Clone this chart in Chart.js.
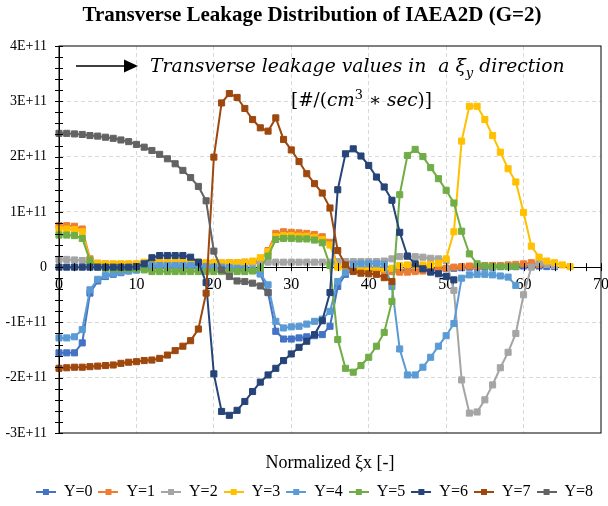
<!DOCTYPE html>
<html>
<head>
<meta charset="utf-8">
<script src="https://cdn.jsdelivr.net/npm/chart.js@4.4.0/dist/chart.umd.min.js"></script>
<style>
  body { margin: 0; background: #fff; }
  canvas { display: block; }
</style>
</head>
<body>
<canvas id="chart" width="608" height="506"></canvas>
<script>
// values are in units of 1E+11 #/(cm3*sec), one point per normalized xi_x step (x = 0, 1, 2, ...)
const seriesNames = ['Y=0', 'Y=1', 'Y=2', 'Y=3', 'Y=4', 'Y=5', 'Y=6', 'Y=7', 'Y=8'];
const seriesColors = ['#4472C4', '#ED7D31', '#A5A5A5', '#FFC000', '#5B9BD5', '#70AD47', '#264478', '#9E480E', '#636363'];

const yRow0 = [-1.55, -1.55, -1.55, -1.37, -0.47, -0.25, -0.17, -0.13, -0.10, -0.07, -0.05,
  -0.02, -0.01, -0.01, -0.01, -0.01, -0.01, -0.01, -0.01, -0.02, -0.02, -0.02, -0.02, -0.03, -0.04, -0.06,
  -0.12, -0.46, -1.16, -1.30, -1.30, -1.28, -1.26, -1.24, -1.22, -1.07, -0.35, -0.13,
  -0.04, -0.03, -0.03, -0.03, -0.03, -0.04, -0.05, -0.05, -0.05, -0.04, -0.04, -0.03, -0.03,
  -0.02, -0.01, 0, 0, 0, 0, 0.01, 0.01, 0.01, 0.02, 0.02, 0.02, 0.01, 0.01];
const yRow1 = [0.75, 0.75, 0.74, 0.69, 0.15, 0.07, 0.06, 0.05, 0.05, 0.05, 0.05,
  0.08, 0.08, 0.08, 0.08, 0.08, 0.08, 0.08, 0.08, 0.07, 0.07, 0.07, 0.08, 0.08, 0.09, 0.10,
  0.12, 0.30, 0.61, 0.64, 0.63, 0.62, 0.61, 0.59, 0.55, 0.45, 0.02, -0.02,
  -0.03, -0.04, -0.05, -0.06, -0.07, -0.08, -0.09, -0.09, -0.08, -0.07, -0.05, -0.04, -0.02,
  0.00, 0.01, 0.02, 0.02, 0.03, 0.03, 0.03, 0.04, 0.05, 0.06, 0.08, 0.05];
const yRow2 = [0.14, 0.14, 0.13, 0.12, 0.07, 0.05, 0.05, 0.05, 0.05, 0.05, 0.05,
  0.06, 0.06, 0.06, 0.06, 0.06, 0.06, 0.06, 0.06, 0.07, 0.07, 0.07, 0.07, 0.07, 0.07, 0.07,
  0.08, 0.09, 0.09, 0.09, 0.09, 0.09, 0.09, 0.09, 0.09, 0.09, 0.10, 0.10,
  0.10, 0.10, 0.10, 0.10, 0.11, 0.15, 0.19, 0.20, 0.19, 0.18, 0.16, 0.15, 0.12,
  -0.42, -2.04, -2.64, -2.62, -2.40, -2.13, -1.82, -1.54, -1.20, -0.50, 0.00, 0.08, 0.05, 0.03];
const yRow3 = [0.69, 0.69, 0.68, 0.64, 0.12, 0.07, 0.06, 0.06, 0.06, 0.06, 0.06,
  0.09, 0.09, 0.09, 0.09, 0.09, 0.09, 0.09, 0.09, 0.08, 0.08, 0.08, 0.08, 0.08, 0.09, 0.11,
  0.17, 0.28, 0.55, 0.57, 0.57, 0.56, 0.56, 0.54, 0.50, 0.40, 0.00, -0.02,
  -0.02, -0.03, -0.03, -0.03, -0.03, -0.02, 0.03, 0.04, 0.04, 0.04, 0.05, 0.07, 0.15,
  0.64, 2.28, 2.91, 2.91, 2.67, 2.38, 2.08, 1.78, 1.54, 0.99, 0.38, 0.18, 0.11, 0.08, 0.04, 0.01];
const yRow4 = [-1.28, -1.28, -1.26, -1.13, -0.41, -0.22, -0.15, -0.12, -0.09, -0.06, -0.05,
  0.02, 0.03, 0.03, 0.03, 0.03, 0.03, 0.03, 0.03, 0.01, 0.00, 0.00, -0.01, -0.02, -0.03, -0.05,
  -0.12, -0.32, -0.98, -1.10, -1.08, -1.07, -1.03, -0.98, -0.94, -0.80, -0.26, -0.10,
  0.05, 0.06, 0.06, 0.06, 0.05, -0.35, -1.48, -1.95, -1.95, -1.81, -1.63, -1.43, -1.24,
  -1.02, -0.20, -0.14, -0.13, -0.13, -0.14, -0.16, -0.18, -0.33];
const yRow5 = [0.58, 0.58, 0.57, 0.52, 0.12, 0.00, -0.02, -0.03, -0.03, -0.03, -0.03,
  -0.05, -0.08, -0.08, -0.08, -0.08, -0.08, -0.08, -0.08, -0.08, -0.08, -0.08, -0.08, -0.08, -0.08, -0.07,
  -0.02, 0.20, 0.50, 0.52, 0.52, 0.51, 0.51, 0.49, 0.44, 0.03, -1.31, -1.83,
  -1.90, -1.78, -1.63, -1.43, -1.18, -0.62, 1.31, 2.02, 2.13, 2.00, 1.80, 1.60, 1.39,
  1.16, 0.65, 0.24, 0.06, 0.02, 0.01, 0.01, 0.01, 0.01];
const yRow6 = [0, 0, 0, 0, 0, 0, 0, 0, 0, 0, 0.01,
  0.06, 0.17, 0.21, 0.21, 0.21, 0.21, 0.18, 0.09, -0.28, -1.93, -2.61, -2.68, -2.59, -2.43, -2.25,
  -2.08, -1.95, -1.83, -1.69, -1.57, -1.45, -1.34, -1.22, -0.97, -0.46, 1.40, 2.05,
  2.14, 2.01, 1.84, 1.63, 1.45, 1.21, 0.63, 0.20, 0.06, -0.03, -0.09, -0.12, -0.17, -0.23];
const yRow7 = [-1.83, -1.82, -1.81, -1.81, -1.80, -1.79, -1.78, -1.77, -1.74, -1.72, -1.71,
  -1.69, -1.68, -1.65, -1.59, -1.51, -1.43, -1.33, -1.12, -0.47, 1.99, 2.97, 3.14, 3.07, 2.87, 2.67,
  2.52, 2.46, 2.70, 2.31, 2.12, 1.91, 1.69, 1.51, 1.34, 1.07, 0.30, 0.04,
  -0.08, -0.11, -0.12, -0.13, -0.19, -0.26];
const yRow8 = [2.42, 2.42, 2.41, 2.40, 2.38, 2.37, 2.35, 2.33, 2.30, 2.27, 2.22,
  2.17, 2.11, 2.04, 1.96, 1.87, 1.75, 1.62, 1.46, 1.20, 0.29, -0.05, -0.17, -0.25, -0.26, -0.29,
  -0.34, -0.46];

const rows = [yRow0, yRow1, yRow2, yRow3, yRow4, yRow5, yRow6, yRow7, yRow8];
const xTicks = [0, 10, 20, 30, 40, 50, 60, 70];
const yTicks = [-3, -2, -1, 0, 1, 2, 3, 4];

const serif = "'Liberation Serif', 'Times New Roman', serif";

// small line + square pictures for the legend
function legendSymbol(color) {
  const c = document.createElement('canvas');
  c.width = 20; c.height = 10;
  const g = c.getContext('2d');
  g.strokeStyle = color; g.lineWidth = 2;
  g.beginPath(); g.moveTo(0, 5); g.lineTo(20, 5); g.stroke();
  g.fillStyle = color;
  g.fillRect(7, 2, 6, 6);
  return c;
}

const datasets = rows.map(function(vals, i) {
  return {
    label: seriesNames[i],
    data: vals.map((v, x) => ({ x: x, y: v })),
    xAxisID: 'x',
    yAxisID: 'y',
    borderColor: seriesColors[i],
    backgroundColor: seriesColors[i],
    borderWidth: 2,
    pointStyle: 'rect',
    pointRadius: 4.3,
    pointBorderWidth: 1,
    tension: 0,
    clip: false,
    order: rows.length - 1 - i
  };
});

// draws text pieces (italic, sub/superscript) scaled to fit a given width
function drawRuns(ctx, runs, x, y, width, family) {
  const base = 20;
  const fontOf = (r, s) => (r.italic ? 'italic ' : '') + (r.small ? s * 0.7 : s) + 'px ' + family;
  let total = 0;
  runs.forEach(r => { ctx.font = fontOf(r, base); total += ctx.measureText(r.t).width; });
  const size = base * width / total;
  let cx = x;
  ctx.textBaseline = 'alphabetic';
  ctx.textAlign = 'left';
  runs.forEach(r => {
    ctx.font = fontOf(r, size);
    ctx.fillText(r.t, cx, y + (r.dy || 0) * size);
    cx += ctx.measureText(r.t).width;
  });
}

const decorations = {
  id: 'decorations',
  afterLayout(chart) {
    // the legend sits a little right of the canvas centre
    chart.legend.left += 14;
    chart.legend.right += 14;
  },
  beforeDraw(chart) {
    const ctx = chart.ctx;
    ctx.save();
    ctx.fillStyle = '#fff';
    ctx.fillRect(0, 0, chart.width, chart.height);
    ctx.restore();
  },
  afterDraw(chart) {
    const ctx = chart.ctx;
    const a = chart.chartArea;
    const xs = chart.scales.x, ys = chart.scales.y;
    ctx.save();
    // plot frame
    ctx.strokeStyle = '#000';
    ctx.lineWidth = 1;
    ctx.strokeRect(a.left, a.top, a.right - a.left, a.bottom - a.top);
    // crossing tick marks
    const y0 = ys.getPixelForValue(0);
    ctx.beginPath();
    for (let v = 0; v <= 70; v += 2) {
      const px = Math.round(xs.getPixelForValue(v)) + 0.5;
      ctx.moveTo(px, y0 - 4); ctx.lineTo(px, y0 + 4);
    }
    for (let k = -15; k <= 20; k++) {
      const py = Math.round(ys.getPixelForValue(k / 5)) + 0.5;
      ctx.moveTo(a.left - 4, py); ctx.lineTo(a.left + 4, py);
    }
    ctx.stroke();

    // title
    ctx.fillStyle = '#000';
    ctx.textAlign = 'center';
    ctx.textBaseline = 'middle';
    ctx.font = 'bold 21px ' + serif;
    ctx.fillText('Transverse Leakage Distribution of IAEA2D (G=2)', 312, 16);

    // annotation arrow
    ctx.lineWidth = 1.5;
    ctx.beginPath(); ctx.moveTo(76, 66); ctx.lineTo(125, 66); ctx.stroke();
    ctx.beginPath(); ctx.moveTo(124, 59.5); ctx.lineTo(138, 66); ctx.lineTo(124, 72.5); ctx.closePath(); ctx.fill();

    const mathFont = "'DejaVu Serif', serif";
    drawRuns(ctx, [
      { t: 'Transverse leakage values in  a ', italic: true },
      { t: 'ξ', italic: true },
      { t: 'y', italic: true, small: true, dy: 0.25 },
      { t: ' direction', italic: true }
    ], 150, 72, 415, mathFont);
    drawRuns(ctx, [
      { t: '[#/(' },
      { t: 'cm', italic: true },
      { t: '3', small: true, dy: -0.4 },
      { t: ' ∗ ' },
      { t: 'sec', italic: true },
      { t: ')]' }
    ], 291, 106, 141, mathFont);
    ctx.restore();
  }
};

new Chart(document.getElementById('chart'), {
  type: 'line',
  data: { datasets: datasets },
  options: {
    responsive: false,
    animation: false,
    devicePixelRatio: 1,
    layout: { padding: { left: 0, right: 7, top: 46, bottom: -4 } },
    plugins: {
      title: { display: false },
      tooltip: { enabled: false },
      legend: {
        position: 'bottom',
        labels: {
          font: { family: serif, size: 16 },
          color: '#000',
          usePointStyle: true,
          pointStyleWidth: 20,
          padding: 6,
          generateLabels: function(chart) {
            return chart.data.datasets.map((ds, i) => ({
              text: ds.label,
              pointStyle: legendSymbol(seriesColors[i]),
              fillStyle: seriesColors[i],
              strokeStyle: seriesColors[i],
              lineWidth: 0,
              hidden: false,
              datasetIndex: i,
              fontColor: '#000'
            }));
          }
        }
      }
    },
    scales: {
      x: {
        type: 'linear',
        position: { y: 0 },
        min: 0,
        max: 70,
        afterBuildTicks: s => { s.ticks = xTicks.map(v => ({ value: v })); },
        afterFit: s => { s.paddingLeft = 0; s.paddingRight = 0; },
        ticks: { font: { family: serif, size: 16 }, color: '#000', padding: 8, maxRotation: 0 },
        grid: {
          drawTicks: false,
          color: c => (c.tick && (c.tick.value === 0 || c.tick.value === 70)) ? 'rgba(0,0,0,0)' : '#D9D9D9'
        },
        border: { color: '#000', width: 1, dash: [4, 3] }
      },
      x2: {
        type: 'linear',
        position: 'bottom',
        ticks: { display: false },
        grid: { display: false },
        border: { display: false },
        title: {
          display: true,
          text: 'Normalized ξx [-]',
          font: { family: serif, size: 18 },
          color: '#000',
          padding: { top: 0, bottom: 4 }
        },
        afterFit: s => { s.height = 45; s.paddingLeft = 0; s.paddingRight = 0; }
      },
      y: {
        type: 'linear',
        min: -3,
        max: 4,
        afterBuildTicks: s => { s.ticks = yTicks.map(v => ({ value: v })); },
        afterFit: s => { s.width = 59; },
        ticks: {
          font: { family: serif, size: 14 },
          color: '#000',
          padding: 12,
          callback: v => v === 0 ? '0' : v + 'E+11'
        },
        grid: {
          drawTicks: false,
          color: c => (c.tick && (c.tick.value === 0 || c.tick.value === -3 || c.tick.value === 4)) ? 'rgba(0,0,0,0)' : '#D9D9D9'
        },
        border: { color: '#000', width: 1, dash: [4, 3] }
      }
    }
  },
  plugins: [decorations]
});
</script>
</body>
</html>
